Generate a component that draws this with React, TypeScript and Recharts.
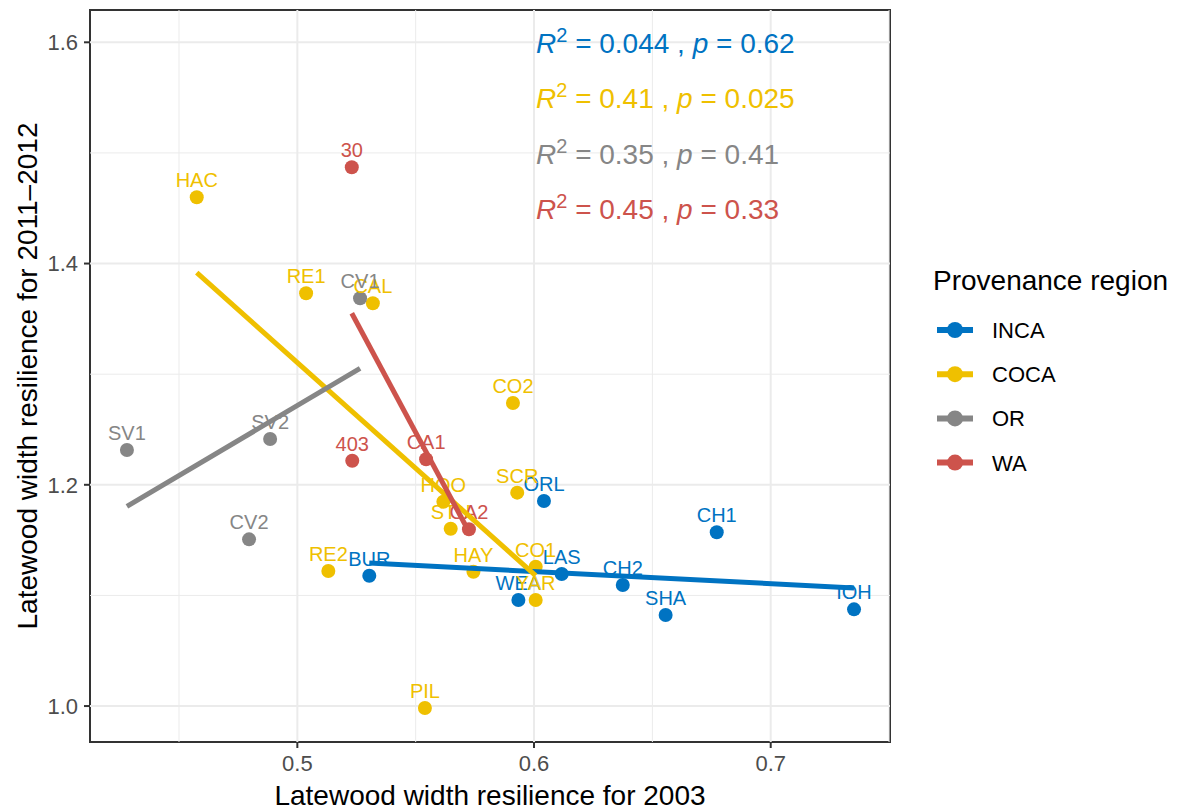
import React from 'react';
import { ScatterChart, Scatter, XAxis, YAxis, ReferenceLine, ReferenceArea, Label } from 'recharts';

const FONT = '"Liberation Sans", Arial, Helvetica, sans-serif';

// axis setup
const xDomain = [0.4124, 0.7504];
const yDomain = [0.9675, 1.6292];
const xTicks = [0.5, 0.6, 0.7];
const yTicks = [1.0, 1.2, 1.4, 1.6];
const xMinor = [0.45, 0.55, 0.65, 0.75];
const yMinor = [1.1, 1.3, 1.5];

// provenance regions
const regions = ['INCA', 'COCA', 'OR', 'WA'];
const regionColors = ['#0073C2', '#EFC000', '#868686', '#CD534C'];

const incaSites = ['BUR', 'ORL', 'WEA', 'LAS', 'CH2', 'SHA', 'CH1', 'IOH'];
const incaX = [0.5304, 0.6042, 0.5934, 0.6117, 0.6375, 0.6556, 0.6772, 0.7352];
const incaY = [1.1178, 1.1854, 1.0958, 1.1194, 1.1094, 1.0823, 1.1571, 1.0874];
const incaFitX = [0.5304, 0.7352];
const incaFitY = [1.1293, 1.1067];

const cocaSites = ['HAC', 'RE1', 'CAL', 'CO2', 'SCR', 'HOO', 'STU', 'RE2', 'HAY', 'CO1', 'YAR', 'PIL'];
const cocaX = [0.4575, 0.5037, 0.5319, 0.5911, 0.5929, 0.5617, 0.5648, 0.5131, 0.5744, 0.6007, 0.6007, 0.5539];
const cocaY = [1.4600, 1.3731, 1.3641, 1.2740, 1.1929, 1.1847, 1.1603, 1.1221, 1.1214, 1.1260, 1.0958, 0.9982];
const cocaFitX = [0.4575, 0.6007];
const cocaFitY = [1.3918, 1.1180];

const orSites = ['SV1', 'SV2', 'CV1', 'CV2'];
const orX = [0.4280, 0.4885, 0.5265, 0.4796];
const orY = [1.2315, 1.2414, 1.3686, 1.1507];
const orFitX = [0.4280, 0.5265];
const orFitY = [1.1805, 1.3052];

const waSites = ['30', '403', 'CA1', 'CA2'];
const waX = [0.5230, 0.5232, 0.5544, 0.5725];
const waY = [1.4871, 1.2218, 1.2231, 1.1598];
const waFitX = [0.5230, 0.5725];
const waFitY = [1.3551, 1.1576];

// fit statistics per region
const r2Values = ['0.044', '0.41', '0.35', '0.45'];
const pValues = ['0.62', '0.025', '0.41', '0.33'];

const siteLists = [incaSites, cocaSites, orSites, waSites];
const xLists = [incaX, cocaX, orX, waX];
const yLists = [incaY, cocaY, orY, waY];
const fitXLists = [incaFitX, cocaFitX, orFitX, waFitX];
const fitYLists = [incaFitY, cocaFitY, orFitY, waFitY];

const series = regions.map((name, i) => ({
  name,
  color: regionColors[i],
  points: siteLists[i].map((site, j) => ({ site, x: xLists[i][j], y: yLists[i][j] })),
  fit: fitXLists[i].map((x, j) => ({ x, y: fitYLists[i][j] })),
}));

const YTitle = () => (
  <text
    transform="translate(37,376) rotate(-90)"
    textAnchor="middle"
    fontSize={28}
    fill="#000"
    fontFamily={FONT}
  >
    Latewood width resilience for 2011–2012
  </text>
);

export default function App() {
  return (
    <div style={{ position: 'absolute', left: 0, top: 0, width: 1179, height: 811, fontFamily: FONT, background: '#fff' }}>
      <ScatterChart width={1179} height={811} margin={{ top: 10, right: 289, bottom: 0, left: 0 }}>
        <XAxis
          type="number"
          dataKey="x"
          domain={xDomain}
          allowDataOverflow
          ticks={xTicks}
          tickFormatter={(v: number) => v.toFixed(1)}
          tick={{ fill: '#4D4D4D', fontSize: 22 }}
          tickLine={{ stroke: '#333', strokeWidth: 2 }}
          tickSize={6}
          tickMargin={7}
          axisLine={false}
          height={69}
        >
          <Label value="Latewood width resilience for 2003" position="insideBottom" offset={6} style={{ fontSize: 28, fill: '#000' }} />
        </XAxis>
        <YAxis
          type="number"
          dataKey="y"
          domain={yDomain}
          allowDataOverflow
          ticks={yTicks}
          tickFormatter={(v: number) => v.toFixed(1)}
          tick={{ fill: '#4D4D4D', fontSize: 22 }}
          tickLine={{ stroke: '#333', strokeWidth: 2 }}
          tickSize={6}
          tickMargin={6}
          axisLine={false}
          width={90}
        >
          <Label content={() => <YTitle />} />
        </YAxis>

        {xMinor.map((v) => (
          <ReferenceLine key={`xm${v}`} x={v} stroke="#EBEBEB" strokeWidth={1} />
        ))}
        {yMinor.map((v) => (
          <ReferenceLine key={`ym${v}`} y={v} stroke="#EBEBEB" strokeWidth={1} />
        ))}
        {xTicks.map((v) => (
          <ReferenceLine key={`xM${v}`} x={v} stroke="#EBEBEB" strokeWidth={2} />
        ))}
        {yTicks.map((v) => (
          <ReferenceLine key={`yM${v}`} y={v} stroke="#EBEBEB" strokeWidth={2} />
        ))}

        {series.map((s) => (
          <Scatter
            key={`pt-${s.name}`}
            data={s.points}
            fill={s.color}
            isAnimationActive={false}
            shape={(p: any) => <circle cx={p.cx} cy={p.cy} r={7} fill={s.color} />}
          />
        ))}
        {series.map((s) => (
          <Scatter
            key={`lb-${s.name}`}
            data={s.points}
            fill={s.color}
            isAnimationActive={false}
            shape={(p: any) => (
              <text x={p.cx} y={p.cy - 10} textAnchor="middle" fontSize={20} fill={s.color} fontFamily={FONT}>
                {p.payload.site}
              </text>
            )}
          />
        ))}
        {series.map((s) => (
          <Scatter
            key={`fit-${s.name}`}
            data={s.fit}
            fill={s.color}
            line={{ stroke: s.color, strokeWidth: 5 }}
            isAnimationActive={false}
            shape={() => <g />}
          />
        ))}

        <ReferenceArea
          x1={xDomain[0]}
          x2={xDomain[1]}
          y1={yDomain[0]}
          y2={yDomain[1]}
          fill="none"
          stroke="#333"
          strokeWidth={2}
          ifOverflow="visible"
        />
      </ScatterChart>

      <svg width={1179} height={811} style={{ position: 'absolute', left: 0, top: 0, pointerEvents: 'none' }}>
        {series.map((s, i) => (
          <text key={`ann-${s.name}`} x={536} y={53 + i * 55.3} fontSize={28} fill={s.color} fontFamily={FONT}>
            <tspan fontStyle="italic">R</tspan>
            <tspan dy={-11} fontSize={20}>2</tspan>
            <tspan dy={11}>{` = ${r2Values[i]} , `}</tspan>
            <tspan fontStyle="italic">p</tspan>
            <tspan>{` = ${pValues[i]}`}</tspan>
          </text>
        ))}

        <text x={933} y={290} fontSize={28} fill="#000" fontFamily={FONT}>
          Provenance region
        </text>
        {series.map((s, i) => {
          const cy = 330 + i * 44.2;
          return (
            <g key={`lg-${s.name}`}>
              <line x1={937} x2={973} y1={cy} y2={cy} stroke={s.color} strokeWidth={6} />
              <circle cx={955} cy={cy} r={8} fill={s.color} />
              <text x={992} y={cy + 8} fontSize={22} fill="#000" fontFamily={FONT}>
                {s.name}
              </text>
            </g>
          );
        })}
      </svg>
    </div>
  );
}
